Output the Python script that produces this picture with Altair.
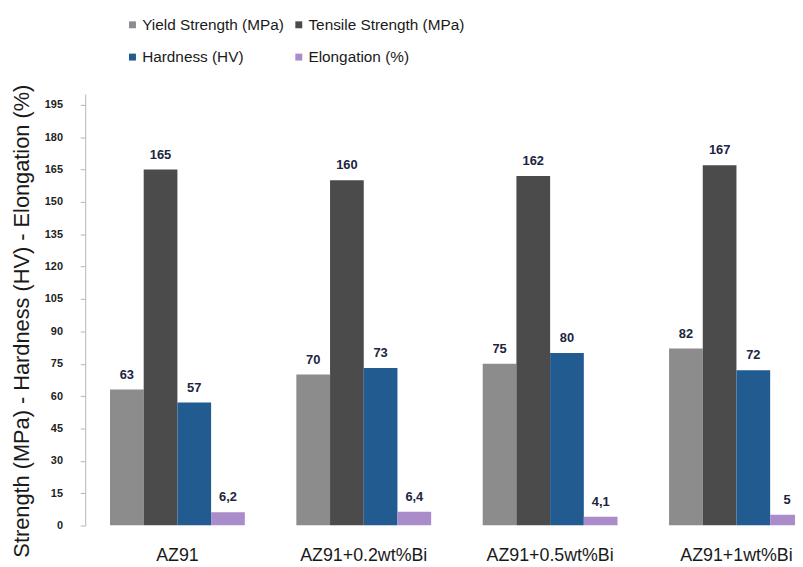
import altair as alt
import pandas as pd

alloys = ["AZ91", "AZ91+0.2wt%Bi", "AZ91+0.5wt%Bi", "AZ91+1wt%Bi"]
series = ["Yield Strength (MPa)", "Tensile Strength (MPa)", "Hardness (HV)", "Elongation (%)"]
yield_strength = [63, 70, 75, 82]
tensile_strength = [165, 160, 162, 167]
hardness = [57, 73, 80, 72]
elongation = [6.2, 6.4, 4.1, 5]
y_ticks = [0, 15, 30, 45, 60, 75, 90, 105, 120, 135, 150, 165, 180, 195]
colors = ["#8c8c8c", "#4b4b4b", "#215b8f", "#a98cc9"]

rows = []
for name, vals in zip(series, [yield_strength, tensile_strength, hardness, elongation]):
    for a, v in zip(alloys, vals):
        rows.append({"alloy": a, "series": name, "value": v,
                     "label": str(v).replace(".", ",")})
df = pd.DataFrame(rows)

sans = "Liberation Sans, Arial, sans-serif"

base = alt.Chart(df).encode(
    x=alt.X("alloy:N", sort=alloys,
            scale=alt.Scale(range=[0, 751], paddingInner=0.2766, paddingOuter=0.133),
            axis=alt.Axis(title=None, domain=False, ticks=False, tickSize=0,
                          labelAngle=0, labelPadding=21, labelFont=sans,
                          labelFontSize=18, labelColor="#1a1a1a")),
    xOffset=alt.XOffset("series:N", sort=series,
                        scale=alt.Scale(paddingInner=0, paddingOuter=0)),
    y=alt.Y("value:Q", scale=alt.Scale(domain=[0, 200], nice=False),
            axis=alt.Axis(values=y_ticks, grid=False,
                          title="Strength (MPa) - Hardness (HV) - Elongation (%)",
                          titleFont=sans, titleFontSize=22, titleFontWeight="normal",
                          titleColor="#1a1a1a", titleX=-52, titleY=229,
                          labelFont=sans, labelFontSize=11, labelColor="#222222",
                          labelFontWeight="bold",
                          labelPadding=18, tickSize=5, tickColor="#b5b5b5",
                          domainColor="#b5b5b5")),
)

bars = base.mark_bar(clip=True).encode(
    color=alt.Color("series:N", sort=series,
                    scale=alt.Scale(domain=series, range=colors),
                    legend=alt.Legend(title=None, orient="none", legendX=40, legendY=-78,
                                      direction="horizontal", columns=2,
                                      symbolType="square", symbolSize=49,
                                      symbolStrokeWidth=0, labelFont=sans,
                                      labelFontSize=15.5, labelColor="#1a1a1a",
                                      labelOffset=2, columnPadding=7, rowPadding=16,
                                      labelLimit=300))
)

text = base.mark_text(baseline="bottom", dy=-8, font=sans, fontSize=13,
                      fontWeight="bold", color="#1c2541").encode(text="label:N")

chart = alt.layer(bars, text).properties(
    width=717, height=436,
    autosize=alt.AutoSizeParams(type="none"),
    padding={"left": 78, "top": 84, "right": 0, "bottom": 39},
).configure_view(stroke=None)

chart.save("out.html", embed_options={"renderer": "svg", "actions": False})
